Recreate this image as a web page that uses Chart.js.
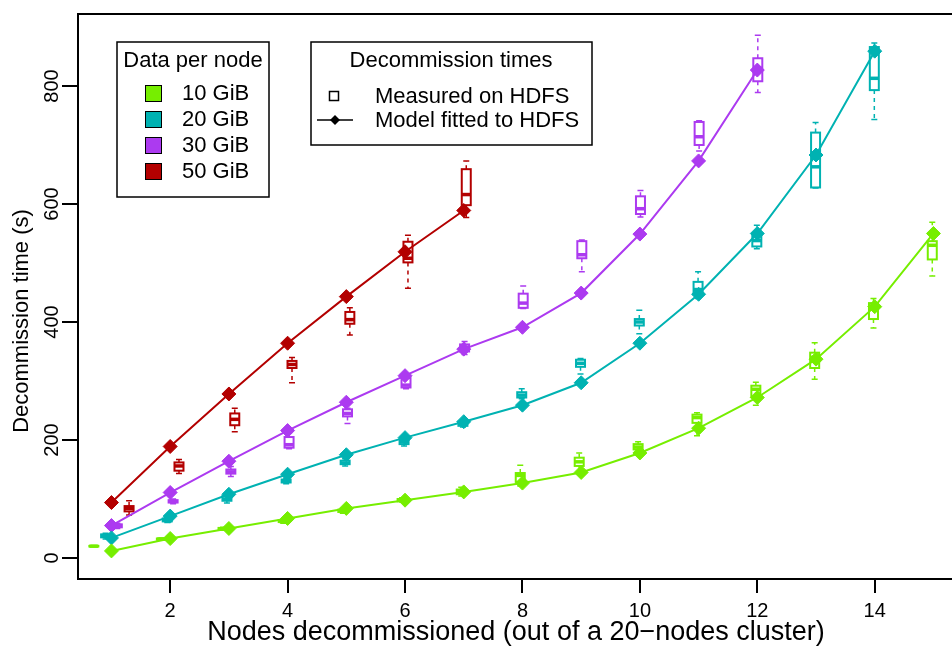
<!DOCTYPE html>
<html>
<head>
<meta charset="utf-8">
<title>Decommission times</title>
<script src="https://cdn.jsdelivr.net/npm/chart.js@4.4.1/dist/chart.umd.min.js"></script>
<style>
  html, body { margin: 0; padding: 0; background: #fff; overflow: hidden; }
  #chart { display: block; }
</style>
</head>
<body>
<canvas id="chart" width="962" height="650"></canvas>
<script>
const FONT = '"Liberation Sans", Arial, Helvetica, sans-serif';

const nodes = [1, 2, 3, 4, 5, 6, 7, 8, 9, 10, 11, 12, 13, 14, 15];
const xTicks = [2, 4, 6, 8, 10, 12, 14];
const yTicks = [0, 200, 400, 600, 800];

const sizeLabels = ['10 GiB', '20 GiB', '30 GiB', '50 GiB'];
const sizeColors = ['#76EE00', '#00B2B2', '#AC3AF0', '#B30000'];
// boxes are nudged sideways by shift / nodes so groups don't overlap
const boxShift = [-0.3, -0.1, 0.1, 0.3];

// fitted model, one value per node count
const model10 = [12, 33, 50, 67, 84, 98, 112, 127, 145, 178, 220, 272, 337, 426, 550];
const model20 = [34, 71, 108, 142, 175, 204, 231, 259, 297, 364, 447, 550, 683, 859];
const model30 = [55, 111, 164, 216, 264, 309, 354, 391, 449, 549, 673, 827];
const model50 = [94, 189, 278, 364, 443, 519, 589];

// measured runs: [min, q1, median, q3, max]
const box10 = [
  [19, 19.5, 20, 20.5, 21], [30, 31, 32, 33, 34], [47, 48, 49, 51, 52],
  [59, 61, 62, 64, 66], [76, 78, 80, 82, 84], [95, 96, 98, 100, 102],
  [105, 108, 112, 116, 120], [122, 129, 140, 144, 157], [146, 156, 163, 170, 178],
  [176, 184, 188, 193, 197], [207, 229, 238, 243, 246], [259, 273, 286, 292, 298],
  [303, 322, 340, 348, 365], [390, 405, 425, 432, 440], [478, 506, 530, 537, 569]
];
const box20 = [
  [32, 35, 38, 40, 42], [60, 62, 64, 67, 69], [93, 97, 100, 105, 108],
  [126, 128, 130, 133, 135], [156, 159, 161, 165, 168], [190, 193, 197, 200, 203],
  [222, 224, 228, 231, 233], [270, 272, 276, 281, 287], [312, 324, 330, 336, 338],
  [380, 394, 400, 405, 420], [440, 447, 455, 468, 485], [524, 528, 538, 548, 564],
  [627, 628, 663, 721, 738], [743, 793, 813, 866, 873]
];
const box30 = [
  [50, 52, 55, 57, 59], [92, 94, 96, 98, 100], [138, 143, 146, 150, 155],
  [185, 187, 192, 205, 212], [228, 240, 245, 252, 254], [287, 289, 293, 305, 312],
  [345, 350, 356, 362, 367], [423, 424, 432, 448, 461], [485, 508, 514, 537, 539],
  [578, 583, 592, 613, 623], [690, 700, 714, 739, 741], [789, 808, 830, 847, 886]
];
const box50 = [
  [73, 79, 84, 88, 97], [143, 148, 156, 162, 167], [214, 225, 235, 245, 254],
  [297, 322, 328, 334, 340], [378, 397, 404, 417, 424], [457, 501, 508, 536, 547],
  [577, 598, 616, 659, 673]
];

const models = [model10, model20, model30, model50];
const boxes = [box10, box20, box30, box50];

const datasets = models.map((m, k) => ({
  label: sizeLabels[k],
  data: m.map((v, i) => ({ x: nodes[i], y: v })),
  borderColor: sizeColors[k],
  backgroundColor: sizeColors[k],
  borderWidth: 2,
  pointStyle: 'rectRot',
  pointRadius: 7,
  pointBorderWidth: 1,
  tension: 0,
  fill: false
}));

const boxPlots = {
  id: 'boxPlots',
  beforeDatasetsDraw(chart) {
    const { ctx, chartArea: a, scales: { x, y } } = chart;
    ctx.save();
    ctx.beginPath();
    ctx.rect(a.left, a.top, a.right - a.left, a.bottom - a.top);
    ctx.clip();
    boxes.forEach((set, k) => {
      ctx.strokeStyle = sizeColors[k];
      set.forEach((b, i) => {
        const n = nodes[i];
        const px = x.getPixelForValue(n + boxShift[k] / n);
        const [lo, q1, med, q3, hi] = b.map(v => y.getPixelForValue(v));
        // whiskers
        ctx.lineWidth = 1.5;
        ctx.setLineDash([4, 4]);
        ctx.beginPath();
        ctx.moveTo(px, q3); ctx.lineTo(px, hi);
        ctx.moveTo(px, q1); ctx.lineTo(px, lo);
        ctx.stroke();
        ctx.setLineDash([]);
        ctx.beginPath();
        ctx.moveTo(px - 3, hi); ctx.lineTo(px + 3, hi);
        ctx.moveTo(px - 3, lo); ctx.lineTo(px + 3, lo);
        ctx.stroke();
        // box and median
        ctx.lineWidth = 2;
        ctx.strokeRect(px - 4.5, q3, 9, q1 - q3);
        ctx.lineWidth = 3.5;
        ctx.beginPath();
        ctx.moveTo(px - 4.5, med); ctx.lineTo(px + 4.5, med);
        ctx.stroke();
      });
    });
    ctx.restore();
  }
};

const frameAndLegends = {
  id: 'frameAndLegends',
  afterDraw(chart) {
    const { ctx, chartArea: a } = chart;
    ctx.save();
    // top edge of the frame
    ctx.strokeStyle = '#000';
    ctx.lineWidth = 2;
    ctx.beginPath();
    ctx.moveTo(a.left - 1, a.top);
    ctx.lineTo(a.right, a.top);
    ctx.stroke();

    ctx.fillStyle = '#000';
    ctx.textBaseline = 'middle';

    // y axis title
    ctx.save();
    ctx.translate(22, 321);
    ctx.rotate(-Math.PI / 2);
    ctx.textAlign = 'center';
    ctx.font = '22px ' + FONT;
    ctx.fillText('Decommission time (s)', 0, 0);
    ctx.restore();

    ctx.font = '22px ' + FONT;

    // legend: data per node
    ctx.lineWidth = 1.5;
    ctx.fillStyle = '#fff';
    ctx.fillRect(117, 42, 152, 155);
    ctx.strokeRect(117, 42, 152, 155);
    ctx.fillStyle = '#000';
    ctx.textAlign = 'center';
    ctx.fillText('Data per node', 193, 61);
    ctx.textAlign = 'left';
    sizeLabels.forEach((lab, k) => {
      const cy = 93 + k * 26;
      ctx.fillStyle = sizeColors[k];
      ctx.fillRect(145, cy - 8, 16, 16);
      ctx.lineWidth = 1;
      ctx.strokeRect(145.5, cy - 7.5, 16, 16);
      ctx.fillStyle = '#000';
      ctx.fillText(lab, 182, cy + 1);
    });

    // legend: measured vs model
    ctx.lineWidth = 1.5;
    ctx.fillStyle = '#fff';
    ctx.fillRect(311, 42, 281, 103);
    ctx.strokeRect(311, 42, 281, 103);
    ctx.fillStyle = '#000';
    ctx.textAlign = 'center';
    ctx.fillText('Decommission times', 451, 61);
    ctx.textAlign = 'left';
    ctx.strokeRect(329.5, 91.5, 9, 9);
    ctx.fillText('Measured on HDFS', 375, 97);
    ctx.beginPath();
    ctx.moveTo(317, 120); ctx.lineTo(353, 120);
    ctx.stroke();
    ctx.beginPath();
    ctx.moveTo(335, 115); ctx.lineTo(340, 120); ctx.lineTo(335, 125); ctx.lineTo(330, 120);
    ctx.closePath();
    ctx.fill();
    ctx.fillText('Model fitted to HDFS', 375, 121);
    ctx.restore();
  }
};

new Chart(document.getElementById('chart'), {
  type: 'line',
  data: { datasets: datasets },
  plugins: [boxPlots, frameAndLegends],
  options: {
    responsive: false,
    animation: false,
    devicePixelRatio: 1,
    layout: { padding: { top: 14, left: 0, right: 0, bottom: 0 } },
    plugins: { legend: { display: false }, tooltip: { enabled: false } },
    scales: {
      x: {
        type: 'linear',
        min: 0.43,
        max: 15.35,
        afterBuildTicks: s => { s.ticks = xTicks.map(v => ({ value: v })); },
        afterFit: s => { s.height = 71; },
        border: { display: true, color: '#000', width: 2 },
        grid: { drawOnChartArea: false, drawTicks: true, tickLength: 14, color: '#000', lineWidth: 2 },
        ticks: { minRotation: 0, maxRotation: 0, padding: 6, color: '#000', font: { family: FONT, size: 20 } },
        title: {
          display: true,
          text: 'Nodes decommissioned (out of a 20\u2212nodes cluster)',
          color: '#000',
          font: { family: FONT, size: 27 },
          padding: { top: 0, bottom: 1 }
        }
      },
      y: {
        type: 'linear',
        min: -35.6,
        max: 922,
        afterBuildTicks: s => { s.ticks = yTicks.map(v => ({ value: v })); },
        afterFit: s => { s.width = 78; },
        border: { display: true, color: '#000', width: 2 },
        grid: { drawOnChartArea: false, drawTicks: true, tickLength: 16, color: '#000', lineWidth: 2 },
        ticks: { minRotation: 90, maxRotation: 90, crossAlign: 'center', padding: -7, color: '#000', font: { family: FONT, size: 20 } }
      }
    }
  }
});
</script>
</body>
</html>
